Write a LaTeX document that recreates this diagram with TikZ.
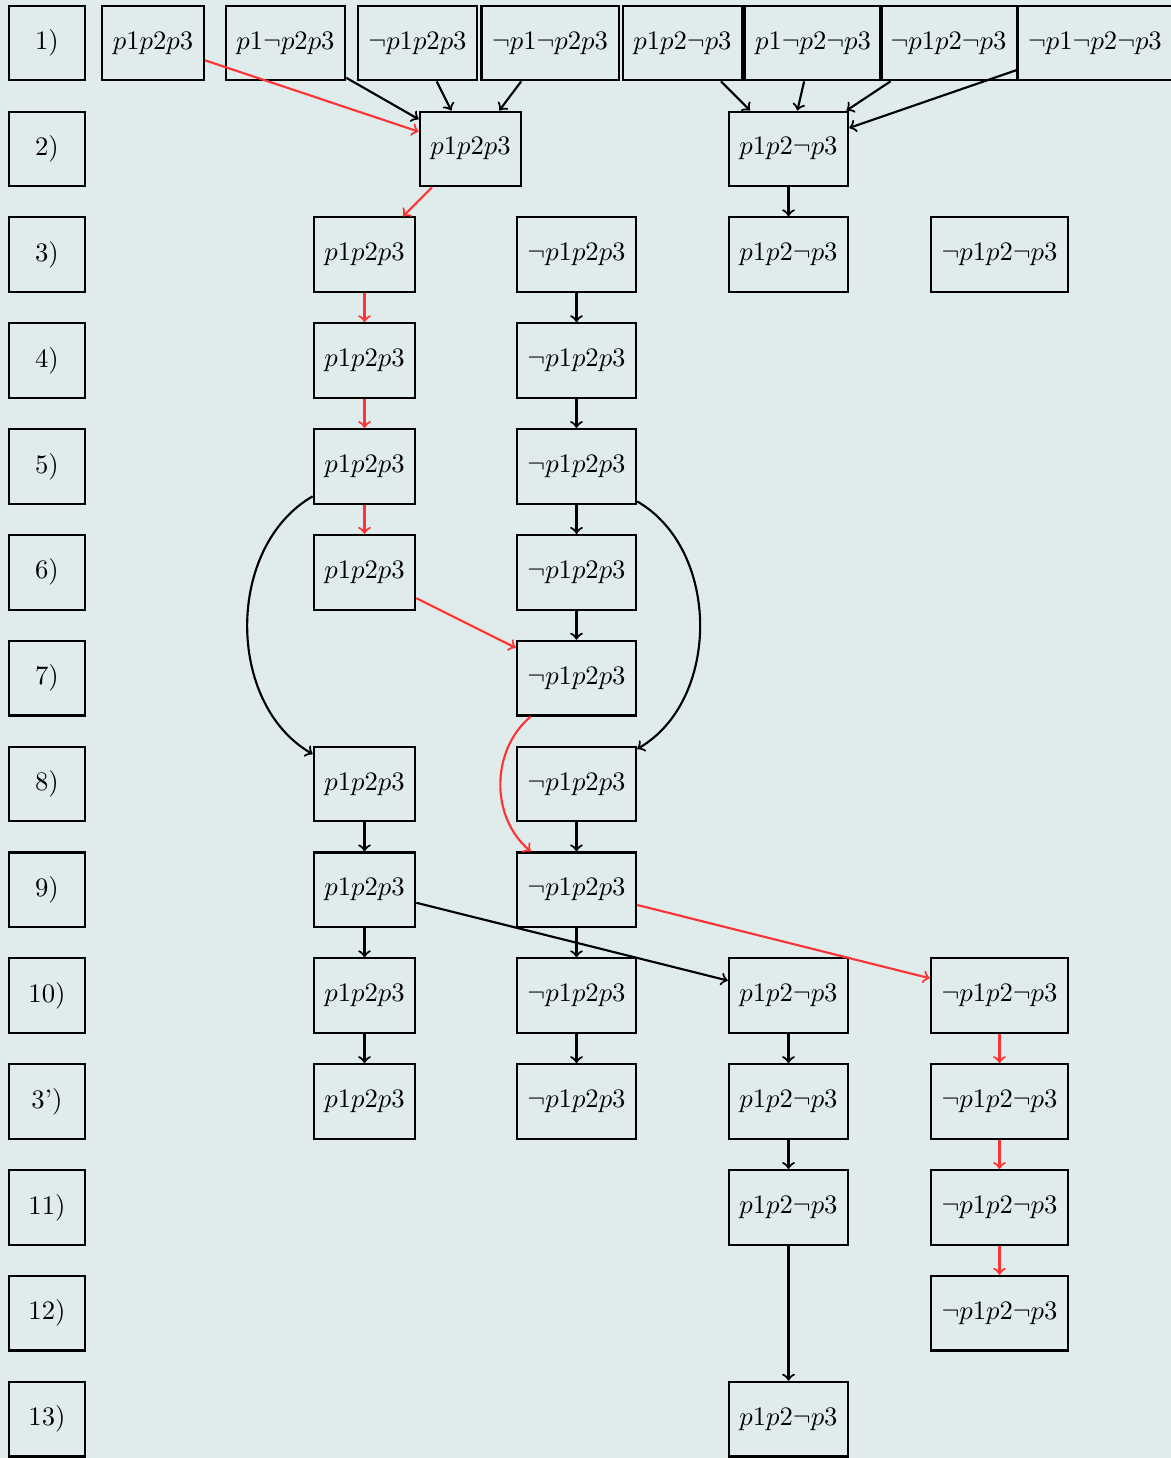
\documentclass[tikz,border=0pt]{standalone}
\definecolor{bg}{RGB}{224,235,236}
\definecolor{myred}{RGB}{255,51,51}
\begin{document}
\begin{tikzpicture}[x=0.375pt,y=-0.375pt,
  box/.style={draw,thick,minimum height=28pt,inner xsep=4pt,inner ysep=2pt},
  lab/.style={draw,thick,minimum height=28pt,minimum width=28.5pt},
  arr/.style={->,thick},
  rarr/.style={->,thick,myred}]
\fill[bg] (0,0) rectangle (1171,1458);
\useasboundingbox (0,0) rectangle (1171,1458);
% row labels
\node[lab] (l1) at (47,43) {1)};
\node[lab] (l2) at (47,148.9) {2)};
\node[lab] (l3) at (47,254.7) {3)};
\node[lab] (l4) at (47,360.6) {4)};
\node[lab] (l5) at (47,466.4) {5)};
\node[lab] (l6) at (47,572.3) {6)};
\node[lab] (l7) at (47,678.1) {7)};
\node[lab] (l8) at (47,784) {8)};
\node[lab] (l9) at (47,889.8) {9)};
\node[lab] (l10) at (47,995.7) {10)};
\node[lab] (l3p) at (47,1101.5) {3')};
\node[lab] (l11) at (47,1207.4) {11)};
\node[lab] (l12) at (47,1313.2) {12)};
\node[lab] (l13) at (47,1419.1) {13)};
% top row
\node[box] (t1) at (153,43) {$p1p2p3$};
\node[box] (t2) at (285.5,43) {$p1\neg p2p3$};
\node[box] (t3) at (417.5,43) {$\neg p1p2p3$};
\node[box] (t4) at (550,43) {$\neg p1\neg p2p3$};
\node[box] (t5) at (682.5,43) {$p1p2\neg p3$};
\node[box] (t6) at (813,43) {$p1\neg p2\neg p3$};
\node[box] (t7) at (948.5,43) {$\neg p1p2\neg p3$};
\node[box] (t8) at (1095,43) {$\neg p1\neg p2\neg p3$};
% row 2
\node[box] (a2) at (470.5,148.9) {$p1p2p3$};
\node[box] (c2) at (788.5,148.9) {$p1p2\neg p3$};
% column A
\node[box] (a3) at (364.5,254.7) {$p1p2p3$};
\node[box] (a4) at (364.5,360.6) {$p1p2p3$};
\node[box] (a5) at (364.5,466.4) {$p1p2p3$};
\node[box] (a6) at (364.5,572.3) {$p1p2p3$};
\node[box] (a8) at (364.5,784) {$p1p2p3$};
\node[box] (a9) at (364.5,889.8) {$p1p2p3$};
\node[box] (a10) at (364.5,995.7) {$p1p2p3$};
\node[box] (a3p) at (364.5,1101.5) {$p1p2p3$};
% column B
\node[box] (b3) at (576.5,254.7) {$\neg p1p2p3$};
\node[box] (b4) at (576.5,360.6) {$\neg p1p2p3$};
\node[box] (b5) at (576.5,466.4) {$\neg p1p2p3$};
\node[box] (b6) at (576.5,572.3) {$\neg p1p2p3$};
\node[box] (b7) at (576.5,678.1) {$\neg p1p2p3$};
\node[box] (b8) at (576.5,784) {$\neg p1p2p3$};
\node[box] (b9) at (576.5,889.8) {$\neg p1p2p3$};
\node[box] (b10) at (576.5,995.7) {$\neg p1p2p3$};
\node[box] (b3p) at (576.5,1101.5) {$\neg p1p2p3$};
% column C
\node[box] (c3) at (788.5,254.7) {$p1p2\neg p3$};
\node[box] (c10) at (788.5,995.7) {$p1p2\neg p3$};
\node[box] (c3p) at (788.5,1101.5) {$p1p2\neg p3$};
\node[box] (c11) at (788.5,1207.4) {$p1p2\neg p3$};
\node[box] (c13) at (788.5,1419.1) {$p1p2\neg p3$};
% column D
\node[box] (d3) at (999.5,254.7) {$\neg p1p2\neg p3$};
\node[box] (d10) at (999.5,995.7) {$\neg p1p2\neg p3$};
\node[box] (d3p) at (999.5,1101.5) {$\neg p1p2\neg p3$};
\node[box] (d11) at (999.5,1207.4) {$\neg p1p2\neg p3$};
\node[box] (d12) at (999.5,1313.2) {$\neg p1p2\neg p3$};
% connectors
\draw[rarr] (t1) -- (a2);
\draw[arr] (t2) -- (a2);
\draw[arr] (t3) -- (a2);
\draw[arr] (t4) -- (a2);
\draw[arr] (t5) -- (c2);
\draw[arr] (t6) -- (c2);
\draw[arr] (t7) -- (c2);
\draw[arr] (t8) -- (c2);
\draw[arr] (c2) -- (c3);
\draw[rarr] (a2) -- (a3);
\draw[rarr] (a3) -- (a4);
\draw[rarr] (a4) -- (a5);
\draw[rarr] (a5) -- (a6);
\draw[arr] (b3) -- (b4);
\draw[arr] (b4) -- (b5);
\draw[arr] (b5) -- (b6);
\draw[arr] (b6) -- (b7);
\draw[arr] (a5) to[bend right=60] (a8);
\draw[arr] (b5) to[bend left=60] (b8);
\draw[rarr] (a6) -- (b7);
\draw[rarr] (b7) to[bend right=50] (b9);
\draw[arr] (a8) -- (a9);
\draw[arr] (a9) -- (a10);
\draw[arr] (a10) -- (a3p);
\draw[arr] (b8) -- (b9);
\draw[arr] (b9) -- (b10);
\draw[arr] (b10) -- (b3p);
\draw[arr] (a9) -- (c10);
\draw[rarr] (b9) -- (d10);
\draw[arr] (c10) -- (c3p);
\draw[arr] (c3p) -- (c11);
\draw[arr] (c11) -- (c13);
\draw[rarr] (d10) -- (d3p);
\draw[rarr] (d3p) -- (d11);
\draw[rarr] (d11) -- (d12);
\end{tikzpicture}
\end{document}
